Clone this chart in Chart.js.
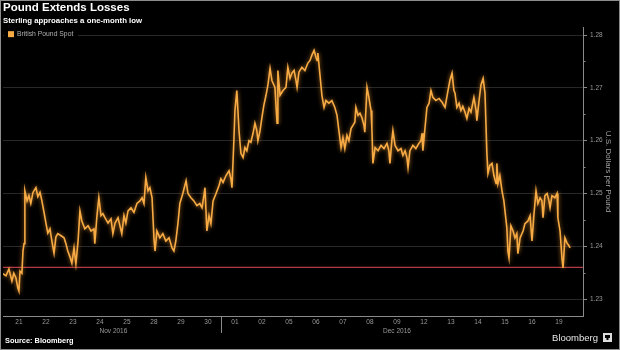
<!DOCTYPE html>
<html>
<head>
<meta charset="utf-8">
<script src="https://cdn.jsdelivr.net/npm/chart.js@4.4.1/dist/chart.umd.min.js"></script>
<style>
html,body{margin:0;padding:0;background:#000;}
#wrap{width:620px;height:350px;position:relative;}
canvas{display:block;}
</style>
</head>
<body>
<div id="wrap"><canvas id="c" width="620" height="350"></canvas></div>
<script>
// ---- text ----
const chartTitle = 'Pound Extends Losses';
const chartSubtitle = 'Sterling approaches a one-month low';
const seriesName = 'British Pound Spot';
const axisTitle = 'U.S. Dollars per Pound';
const sourceText = 'Source: Bloomberg';
const brandText = 'Bloomberg';

// ---- axes ----
const dayLabels = ['21','22','23','24','25','28','29','30','01','02','05','06','07','08','09','12','13','14','15','16','19'];
const monthLabels = ['Nov 2016','Dec 2016'];
const monthStartDay = [0, 8];
const yTicks = [1.23, 1.24, 1.25, 1.26, 1.27, 1.28];
const yMin = 1.2268, yMax = 1.2815;
const xMin = -0.09, xMax = 21.39;

// ---- data: position in trading days since 21 Nov, GBP/USD spot ----
const dayPos = [
-0.09,0.02,0.13,0.24,0.31,0.39,0.46,0.50,0.54,0.61,
0.65,0.69,0.72,0.80,0.87,0.94,1.02,1.13,1.20,1.28,
1.35,1.43,1.50,1.57,1.65,1.72,1.80,1.87,1.94,2.06,
2.17,2.24,2.31,2.39,2.46,2.54,2.61,2.69,2.76,2.83,
2.94,3.06,3.17,3.28,3.31,3.39,3.46,3.54,3.61,3.69,
3.80,3.91,3.98,4.06,4.17,4.24,4.31,4.39,4.46,4.54,
4.65,4.76,4.87,4.98,5.06,5.13,5.20,5.28,5.35,5.43,
5.50,5.54,5.61,5.72,5.83,5.94,6.06,6.17,6.24,6.31,
6.39,6.46,6.57,6.69,6.76,6.87,6.98,7.09,7.20,7.28,
7.35,7.39,7.46,7.54,7.61,7.69,7.80,7.91,7.98,8.06,
8.17,8.28,8.35,8.39,8.46,8.50,8.57,8.65,8.72,8.80,
8.87,8.94,9.02,9.09,9.17,9.24,9.31,9.35,9.43,9.50,
9.57,9.65,9.72,9.80,9.87,9.98,10.06,10.09,10.17,10.28,
10.39,10.46,10.54,10.61,10.69,10.76,10.80,10.87,10.98,11.09,
11.20,11.28,11.35,11.43,11.50,11.54,11.57,11.65,11.72,11.80,
11.87,11.98,12.09,12.20,12.28,12.35,12.43,12.50,12.57,12.65,
12.72,12.80,12.87,12.94,12.98,13.06,13.13,13.20,13.28,13.31,
13.39,13.46,13.54,13.57,13.61,13.69,13.80,13.91,14.02,14.13,
14.20,14.24,14.31,14.35,14.43,14.54,14.65,14.72,14.80,14.87,
14.91,14.98,15.09,15.20,15.31,15.39,15.43,15.46,15.54,15.61,
15.69,15.76,15.83,15.94,16.06,16.17,16.28,16.39,16.46,16.54,
16.61,16.65,16.72,16.80,16.87,16.94,17.02,17.09,17.17,17.24,
17.35,17.43,17.46,17.54,17.61,17.69,17.76,17.83,17.87,17.94,
18.02,18.09,18.17,18.20,18.24,18.31,18.39,18.46,18.50,18.57,
18.61,18.65,18.72,18.80,18.87,18.94,18.98,19.06,19.17,19.24,
19.35,19.43,19.50,19.57,19.65,19.72,19.80,19.87,19.91,19.98,
20.06,20.13,20.17,20.24,20.35,20.43,20.46,20.54,20.61,20.65,
20.72,20.80,20.87,20.91
];
const gbpUsd = [
1.2348,1.2344,1.2357,1.2334,1.2349,1.2340,1.2321,1.2315,1.2353,1.2349,
1.2391,1.2405,1.2505,1.2486,1.2496,1.2481,1.2502,1.2511,1.2494,1.2502,
1.2486,1.2464,1.2444,1.2425,1.2433,1.2410,1.2387,1.2418,1.2424,1.2420,
1.2416,1.2405,1.2391,1.2380,1.2368,1.2397,1.2367,1.2410,1.2467,1.2448,
1.2433,1.2439,1.2429,1.2433,1.2405,1.2458,1.2492,1.2458,1.2462,1.2454,
1.2444,1.2452,1.2424,1.2444,1.2454,1.2439,1.2424,1.2458,1.2444,1.2467,
1.2473,1.2464,1.2481,1.2486,1.2492,1.2481,1.2530,1.2505,1.2511,1.2492,
1.2416,1.2391,1.2429,1.2416,1.2424,1.2410,1.2416,1.2397,1.2391,1.2410,
1.2444,1.2481,1.2500,1.2524,1.2500,1.2492,1.2486,1.2477,1.2481,1.2473,
1.2496,1.2511,1.2429,1.2458,1.2443,1.2486,1.2500,1.2515,1.2528,1.2521,
1.2534,1.2543,1.2528,1.2511,1.2600,1.2657,1.2695,1.2619,1.2576,1.2568,
1.2587,1.2581,1.2600,1.2597,1.2614,1.2633,1.2619,1.2600,1.2619,1.2644,
1.2667,1.2686,1.2705,1.2737,1.2714,1.2701,1.2633,1.2733,1.2686,1.2695,
1.2701,1.2739,1.2718,1.2728,1.2733,1.2714,1.2701,1.2730,1.2739,1.2733,
1.2747,1.2752,1.2762,1.2771,1.2758,1.2752,1.2766,1.2724,1.2686,1.2663,
1.2676,1.2671,1.2676,1.2663,1.2648,1.2619,1.2587,1.2606,1.2585,1.2610,
1.2600,1.2623,1.2629,1.2635,1.2663,1.2648,1.2652,1.2644,1.2629,1.2616,
1.2701,1.2682,1.2657,1.2625,1.2557,1.2587,1.2581,1.2591,1.2585,1.2595,
1.2581,1.2557,1.2600,1.2619,1.2591,1.2581,1.2585,1.2572,1.2581,1.2568,
1.2549,1.2581,1.2591,1.2585,1.2595,1.2600,1.2614,1.2581,1.2625,1.2663,
1.2671,1.2695,1.2682,1.2676,1.2680,1.2673,1.2663,1.2695,1.2714,1.2728,
1.2695,1.2690,1.2663,1.2671,1.2657,1.2665,1.2654,1.2642,1.2661,1.2654,
1.2682,1.2657,1.2638,1.2676,1.2705,1.2718,1.2690,1.2576,1.2538,1.2553,
1.2557,1.2534,1.2519,1.2557,1.2519,1.2534,1.2505,1.2486,1.2467,1.2435,
1.2391,1.2378,1.2439,1.2429,1.2416,1.2424,1.2386,1.2416,1.2429,1.2443,
1.2448,1.2458,1.2410,1.2458,1.2505,1.2481,1.2492,1.2486,1.2454,1.2496,
1.2500,1.2486,1.2473,1.2496,1.2492,1.2500,1.2454,1.2429,1.2378,1.2359,
1.2416,1.2406,1.2401,1.2397
];
const oneMonthLow = 1.2360;

// ---- styles ----
const lineColor = '#f7ab45';
const lowColor = '#b23a46';
const gridColor = '#282828';
const axisColor = '#8a8a8a';
const tickTextColor = '#9a9a9a';
const FONT = "'Liberation Sans', Arial, sans-serif";

const glow = {
  id: 'glow',
  beforeDatasetDraw(chart, args) {
    if (args.index !== 0) return;
    const ctx = chart.ctx;
    ctx.save();
    ctx.shadowColor = 'rgba(255,160,50,0.7)';
    ctx.shadowBlur = 4;
  },
  afterDatasetDraw(chart, args) {
    if (args.index !== 0) return;
    chart.ctx.restore();
  }
};

const decor = {
  id: 'decor',
  beforeDraw(chart) {
    const ctx = chart.ctx;
    ctx.save();
    ctx.fillStyle = '#000';
    ctx.fillRect(0, 0, chart.width, chart.height);
    ctx.restore();
  },
  afterDraw(chart) {
    const ctx = chart.ctx;
    const xs = chart.scales.x, ys = chart.scales.y;
    const area = chart.chartArea;
    ctx.save();
    // legend
    ctx.fillStyle = '#000';
    ctx.fillRect(area.left + 1, area.top + 2, 74, 11);
    ctx.fillStyle = lineColor;
    ctx.fillRect(area.left + 5, area.top + 4, 6, 6);
    ctx.fillStyle = '#b0b0b0';
    ctx.font = '6.8px ' + FONT;
    ctx.textBaseline = 'middle';
    ctx.textAlign = 'left';
    ctx.fillText(seriesName, area.left + 14, area.top + 7.3);
    // minor ticks on the right axis
    ctx.strokeStyle = axisColor;
    ctx.lineWidth = 1;
    for (let i = 0; i < yTicks.length - 1; i++) {
      const v = (yTicks[i] + yTicks[i + 1]) / 2;
      const py = Math.round(ys.getPixelForValue(v)) + 0.5;
      ctx.beginPath();
      ctx.moveTo(area.right, py);
      ctx.lineTo(area.right + 2.5, py);
      ctx.stroke();
    }
    // month separator and month labels
    const sepX = Math.round(xs.getPixelForValue(monthStartDay[1])) + 0.5;
    ctx.beginPath();
    ctx.moveTo(sepX, area.bottom);
    ctx.lineTo(sepX, area.bottom + 17);
    ctx.stroke();
    ctx.fillStyle = tickTextColor;
    ctx.font = '6.5px ' + FONT;
    ctx.textAlign = 'center';
    for (let m = 0; m < monthLabels.length; m++) {
      const a = monthStartDay[m];
      const b = m + 1 < monthStartDay.length ? monthStartDay[m + 1] : dayLabels.length;
      const cx = xs.getPixelForValue((a + b) / 2);
      ctx.fillText(monthLabels[m], cx, area.bottom + 15.5);
    }
    // source
    ctx.textAlign = 'left';
    ctx.fillStyle = '#ffffff';
    ctx.font = 'bold 7.4px ' + FONT;
    ctx.fillText(sourceText, 5, 340.5);
    // brand
    ctx.fillStyle = '#e6e6e6';
    ctx.font = '9.5px ' + FONT;
    ctx.textAlign = 'right';
    ctx.fillText(brandText, 598, 338);
    ctx.fillStyle = '#dcdcdc';
    ctx.fillRect(603, 333, 9, 9);
    ctx.fillStyle = '#000';
    ctx.fillRect(605, 335, 5, 3);
    ctx.fillRect(606.5, 338, 2, 2);
    // frame
    ctx.strokeStyle = '#8c8c8c';
    ctx.lineWidth = 1;
    ctx.strokeRect(0.5, 0.5, chart.width - 1, chart.height - 1);
    ctx.restore();
  }
};

const ctx = document.getElementById('c').getContext('2d');
new Chart(ctx, {
  type: 'line',
  data: {
    datasets: [
      {
        label: seriesName,
        data: dayPos.map((x, i) => ({ x: x, y: gbpUsd[i] })),
        borderColor: lineColor,
        borderWidth: 1.6,
        pointRadius: 0,
        tension: 0,
        fill: false
      },
      {
        label: 'One-month low',
        data: [{ x: xMin, y: oneMonthLow }, { x: xMax, y: oneMonthLow }],
        borderColor: lowColor,
        borderWidth: 1.3,
        pointRadius: 0,
        fill: false
      }
    ]
  },
  options: {
    responsive: false,
    animation: false,
    devicePixelRatio: 1,
    layout: { padding: { left: 3, right: 0, top: 0, bottom: 0 } },
    plugins: {
      legend: { display: false },
      tooltip: { enabled: false },
      title: {
        display: true, text: chartTitle, align: 'start', color: '#ffffff',
        font: { family: FONT, size: 11.5, weight: 'bold' },
        padding: { top: 1, bottom: 0 }
      },
      subtitle: {
        display: true, text: chartSubtitle, align: 'start', color: '#ffffff',
        font: { family: FONT, size: 7.8, weight: 'bold' },
        padding: { top: 1, bottom: 2 }
      }
    },
    scales: {
      x: {
        type: 'linear',
        min: xMin, max: xMax,
        afterBuildTicks: (scale) => { scale.ticks = dayLabels.map((l, i) => ({ value: i + 0.5 })); },
        afterFit: (scale) => { scale.height = 34; },
        ticks: {
          autoSkip: false, maxRotation: 0, minRotation: 0, padding: 2,
          color: tickTextColor, font: { family: FONT, size: 6.5 },
          callback: (v, i) => dayLabels[i]
        },
        grid: { display: false, drawTicks: false },
        border: { display: true, color: axisColor, width: 1 }
      },
      y: {
        type: 'linear',
        position: 'right',
        min: yMin, max: yMax,
        afterBuildTicks: (scale) => { scale.ticks = yTicks.map(v => ({ value: v })); },
        afterFit: (scale) => { scale.width = 37; },
        ticks: {
          padding: 3, color: tickTextColor, font: { family: FONT, size: 6.5 },
          callback: (v) => Number(v).toFixed(2)
        },
        grid: { color: gridColor, lineWidth: 1, tickLength: 4, tickColor: axisColor },
        border: { display: true, color: axisColor, width: 1 },
        title: {
          display: true, text: axisTitle, color: '#a0a0a0',
          font: { family: FONT, size: 8 },
          padding: { top: 7, bottom: 0 }
        }
      }
    }
  },
  plugins: [glow, decor]
});
</script>
</body>
</html>
